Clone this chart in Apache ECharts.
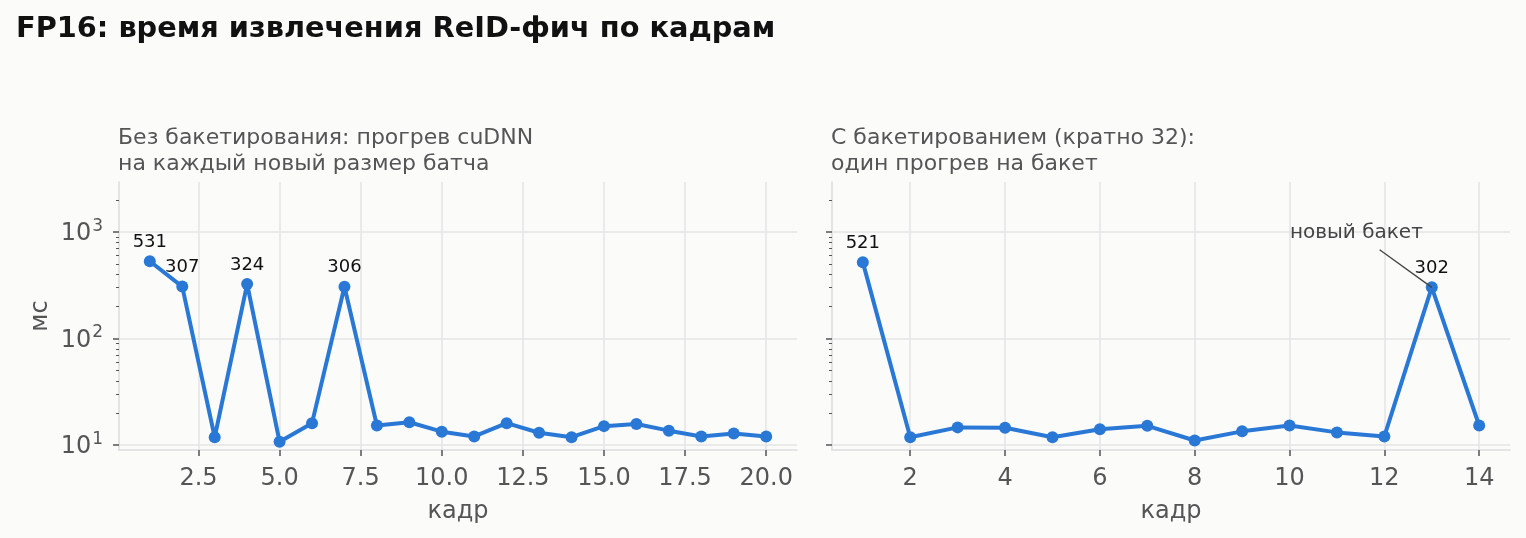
<!DOCTYPE html>
<html>
<head>
<meta charset="utf-8">
<script src="https://cdn.jsdelivr.net/npm/echarts@6/dist/echarts.min.js"></script>
<style>
html,body{margin:0;padding:0;background:#fbfbfa;}
#chart{width:1526px;height:538px;}
</style>
</head>
<body>
<div id="chart"></div>
<script>
// ---- data ----
const framesLeft = [1,2,3,4,5,6,7,8,9,10,11,12,13,14,15,16,17,18,19,20];
const msLeft = [531,307,11.8,324,10.7,16.0,306,15.2,16.3,13.3,12.0,16.0,13.0,11.8,15.0,15.7,13.6,12.0,12.8,12.0];
const framesRight = [1,2,3,4,5,6,7,8,9,10,11,12,13,14];
const msRight = [521,11.8,14.6,14.5,11.8,14.0,15.1,11.0,13.4,15.2,13.1,12.0,302,15.2];

const yMajorTicks = [10,100,1000];
const yMinorTicks = [20,30,40,50,60,70,80,90,200,300,400,500,600,700,800,900,2000];
const xTicksLeft = [2.5,5.0,7.5,10.0,12.5,15.0,17.5,20.0];
const xTicksRight = [2,4,6,8,10,12,14];

const titleText = 'FP16: время извлечения ReID-фич по кадрам';
const subLeft = 'Без бакетирования: прогрев cuDNN\nна каждый новый размер батча';
const subRight = 'С бакетированием (кратно 32):\nодин прогрев на бакет';
const xName = 'кадр';
const yName = 'мс';
const noteText = 'новый бакет';
const noteTextAt = [11.41, 975];
const noteLineFrom = [11.9, 680];
const noteTarget = [13, 302];

const labelThreshold = 100;
const Y_MIN = 8.95, Y_MAX = 2950;

// ---- chart ----
const FONT = 'DejaVu Sans';
const BLUE = '#2a78d6';
const GRID = '#e4e4e4';
const TICK = '#555555';

const chart = echarts.init(document.getElementById('chart'));

function yAxes(gridIndex, showLabels){
  return [
    {
      type:'log', logBase:10, gridIndex, min:Y_MIN, max:Y_MAX, position:'left',
      name: showLabels ? yName : '', nameLocation:'middle', nameGap:66,
      nameTextStyle:{fontFamily:FONT, fontSize:24, color:'#555'},
      axisLine:{show:true, lineStyle:{color:'#dddddd', width:1.5}},
      axisTick:{show:true, length:6, customValues:yMajorTicks, lineStyle:{color:TICK, width:1.5}},
      axisLabel:{show:showLabels, customValues:yMajorTicks, margin:16,
        formatter:(v)=>'{b|10}{s|'+Math.round(Math.log10(v))+'}',
        rich:{
          b:{fontFamily:FONT, fontSize:24, color:'#555', lineHeight:28, verticalAlign:'bottom'},
          s:{fontFamily:FONT, fontSize:17, color:'#555', lineHeight:28, verticalAlign:'top', padding:[0,0,12,1]}
        }},
      splitLine:{show:true, lineStyle:{color:GRID, width:1.5}}
    },
    {
      type:'log', logBase:10, gridIndex, min:Y_MIN, max:Y_MAX, position:'left', offset:0,
      axisLine:{show:false},
      axisTick:{show:true, length:3, customValues:yMinorTicks, lineStyle:{color:TICK, width:1}},
      axisLabel:{show:false},
      splitLine:{show:false}
    }
  ];
}

function xAxis(gridIndex, min, max, ticks, fmt){
  return {
    type:'value', gridIndex, min, max,
    name:xName, nameLocation:'middle', nameGap:50,
    nameTextStyle:{fontFamily:FONT, fontSize:24, color:'#555'},
    axisLine:{show:true, onZero:false, lineStyle:{color:'#dddddd', width:1.5}},
    axisTick:{show:true, length:6, customValues:ticks, lineStyle:{color:TICK, width:1.5}},
    axisLabel:{customValues:ticks, formatter:fmt, fontFamily:FONT, fontSize:24, color:'#555', margin:17},
    splitLine:{show:true, lineStyle:{color:GRID, width:1.5}}
  };
}

function lineSeries(xIdx, yIdx, xs, ys){
  return {
    type:'line', xAxisIndex:xIdx, yAxisIndex:yIdx,
    data: xs.map((x,i)=>({
      value:[x, ys[i]],
      label:{show: ys[i] > labelThreshold}
    })),
    symbol:'circle', symbolSize:12,
    lineStyle:{color:BLUE, width:4},
    itemStyle:{color:BLUE},
    label:{position:'top', distance:4, fontFamily:FONT, fontSize:18, color:'#111',
      formatter:(p)=>String(Math.round(p.value[1]))},
    animation:false, z:3
  };
}

const rightSeries = lineSeries(1, 2, framesRight, msRight);
rightSeries.markLine = {
  silent:true, symbol:['none','none'], animation:false,
  lineStyle:{color:'#444', width:1.3, type:'solid'},
  label:{show:false},
  data:[[{coord:noteLineFrom},{coord:noteTarget}]]
};
rightSeries.markPoint = {
  silent:true, symbol:'circle', symbolSize:0, animation:false,
  label:{show:true, position:'inside', formatter:noteText, fontFamily:FONT, fontSize:20, color:'#444'},
  data:[{coord:noteTextAt}]
};

chart.setOption({
  backgroundColor:'#fbfbfa',
  animation:false,
  title:[
    {text:titleText, left:16, top:15, padding:0, textStyle:{fontFamily:FONT, fontSize:28.8, fontWeight:'bold', color:'#111', lineHeight:30}},
    {text:subLeft, left:118, top:125, padding:0, textStyle:{fontFamily:FONT, fontSize:22, fontWeight:'normal', color:'#555', lineHeight:26}},
    {text:subRight, left:831, top:125, padding:0, textStyle:{fontFamily:FONT, fontSize:22, fontWeight:'normal', color:'#555', lineHeight:26}}
  ],
  grid:[
    {left:119, right:729, top:182, bottom:88, containLabel:false},
    {left:832, right:16, top:182, bottom:88, containLabel:false}
  ],
  xAxis:[
    xAxis(0, 0.05, 20.95, xTicksLeft, (v)=>v.toFixed(1)),
    xAxis(1, 0.35, 14.65, xTicksRight, (v)=>String(Math.round(v)))
  ],
  yAxis:[...yAxes(0, true), ...yAxes(1, false)],
  series:[
    lineSeries(0, 0, framesLeft, msLeft),
    rightSeries
  ]
});
</script>
</body>
</html>
